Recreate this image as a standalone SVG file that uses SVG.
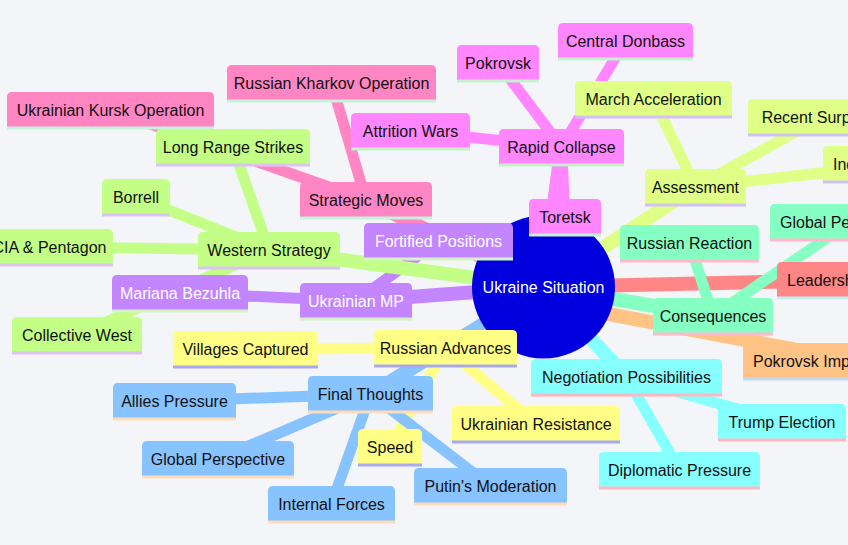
<svg xmlns="http://www.w3.org/2000/svg" width="848" height="545" viewBox="0 0 848 545">
<style>
text{font-family:"Liberation Sans",Arial,sans-serif;font-size:16px;text-anchor:middle;fill:#111}
.e1{stroke-width:14;fill:none}
.e2{stroke-width:11;fill:none}
.ln{stroke-width:3}
.c0{fill:#ffff86}.k0{stroke:#ffff86}.l0{stroke:#a9a9ee}
.c1{fill:#dfff86}.k1{stroke:#dfff86}.l1{stroke:#d2c2f2}
.c2{fill:#c386ff}.k2{stroke:#c386ff}.l2{stroke:#d4f2c4}
.c3{fill:#ff86ff}.k3{stroke:#ff86ff}.l3{stroke:#c4f2cc}
.c4{fill:#ff86c3}.k4{stroke:#ff86c3}.l4{stroke:#c4f2dc}
.c5{fill:#ff8686}.k5{stroke:#ff8686}.l5{stroke:#c4eef2}
.c6{fill:#ffc386}.k6{stroke:#ffc386}.l6{stroke:#c4dcf2}
.c7{fill:#c3ff86}.k7{stroke:#c3ff86}.l7{stroke:#dcc4f2}
.c8{fill:#86ffc3}.k8{stroke:#86ffc3}.l8{stroke:#ffb8cc}
.c9{fill:#86ffff}.k9{stroke:#86ffff}.l9{stroke:#ffb8c0}
.c10{fill:#86c3ff}.k10{stroke:#86c3ff}.l10{stroke:#ffdcb8}
.w text,text.w{fill:#fff}
</style>
<rect x="0" y="0" width="848" height="545" fill="#f4f5f8"/>
<g id="connectors">
<line class="e1 k4" x1="543" y1="287" x2="366" y2="200"/>
<line class="e2 k4" x1="366" y1="200" x2="110.5" y2="110"/>
<line class="e2 k4" x1="366" y1="200" x2="331.5" y2="83"/>
<line class="e1 k3" x1="543" y1="287" x2="561.5" y2="147"/>
<line class="e2 k3" x1="561.5" y1="147" x2="498" y2="63"/>
<line class="e2 k3" x1="561.5" y1="147" x2="625.5" y2="41"/>
<line class="e2 k3" x1="561.5" y1="147" x2="410.5" y2="131"/>
<line class="e2 k3" x1="561.5" y1="147" x2="565" y2="217"/>
<line class="e1 k1" x1="543" y1="287" x2="695.5" y2="187"/>
<line class="e2 k1" x1="695.5" y1="187" x2="653.5" y2="99"/>
<line class="e2 k1" x1="695.5" y1="187" x2="823" y2="117"/>
<line class="e2 k1" x1="695.5" y1="187" x2="903" y2="164"/>
<line class="e1 k5" x1="543" y1="287" x2="852" y2="280"/>
<line class="e1 k8" x1="543" y1="287" x2="713" y2="316"/>
<line class="e2 k8" x1="713" y1="316" x2="689.5" y2="243"/>
<line class="e2 k8" x1="713" y1="316" x2="850" y2="222"/>
<line class="e1 k6" x1="545" y1="302" x2="855" y2="361"/>
<line class="e1 k9" x1="543" y1="287" x2="626.5" y2="377"/>
<line class="e2 k9" x1="626.5" y1="377" x2="782" y2="422"/>
<line class="e2 k9" x1="626.5" y1="377" x2="679.5" y2="470"/>
<line class="e1 k0" x1="543" y1="287" x2="445.5" y2="348"/>
<line class="e2 k0" x1="445.5" y1="348" x2="245.5" y2="349"/>
<line class="e2 k0" x1="445.5" y1="348" x2="536" y2="424"/>
<line class="e2 k0" x1="445.5" y1="348" x2="390" y2="447"/>
<line class="e1 k10" x1="543" y1="287" x2="370.5" y2="394"/>
<line class="e2 k10" x1="370.5" y1="394" x2="174.5" y2="401"/>
<line class="e2 k10" x1="370.5" y1="394" x2="218" y2="459"/>
<line class="e2 k10" x1="370.5" y1="394" x2="331.5" y2="504"/>
<line class="e2 k10" x1="370.5" y1="394" x2="490.5" y2="486"/>
<line class="e1 k2" x1="543" y1="287" x2="356" y2="301"/>
<line class="e2 k2" x1="356" y1="301" x2="180" y2="293"/>
<line class="e2 k2" x1="356" y1="301" x2="438.5" y2="241"/>
<line class="e1 k7" x1="543" y1="287" x2="269" y2="250"/>
<line class="e2 k7" x1="269" y1="250" x2="233" y2="147"/>
<line class="e2 k7" x1="269" y1="250" x2="136" y2="197"/>
<line class="e2 k7" x1="269" y1="250" x2="49.5" y2="247"/>
<line class="e2 k7" x1="269" y1="250" x2="77" y2="335"/>
</g>
<g id="root">
<circle cx="543.5" cy="287" r="71.5" fill="#0000de"/>
<text class="w" x="543.5" y="293">Ukraine Situation</text>
</g>
<g id="strategic-moves" transform="translate(300,182)"><path class="c4" d="M0 36V5Q0 0 5 0H127Q132 0 132 5V36Z"/><line class="ln l4" x1="0" y1="36" x2="132" y2="36"/><text x="66" y="23.5">Strategic Moves</text></g>
<g id="ukrainian-kursk-operation" transform="translate(7,92)"><path class="c4" d="M0 36V5Q0 0 5 0H202Q207 0 207 5V36Z"/><line class="ln l4" x1="0" y1="36" x2="207" y2="36"/><text x="103.5" y="23.5">Ukrainian Kursk Operation</text></g>
<g id="russian-kharkov-operation" transform="translate(227,65)"><path class="c4" d="M0 36V5Q0 0 5 0H204Q209 0 209 5V36Z"/><line class="ln l4" x1="0" y1="36" x2="209" y2="36"/><text x="104.5" y="23.5">Russian Kharkov Operation</text></g>
<g id="rapid-collapse" transform="translate(499,129)"><path class="c3" d="M0 36V5Q0 0 5 0H120Q125 0 125 5V36Z"/><line class="ln l3" x1="0" y1="36" x2="125" y2="36"/><text x="62.5" y="23.5">Rapid Collapse</text></g>
<g id="pokrovsk" transform="translate(457,45)"><path class="c3" d="M0 36V5Q0 0 5 0H77Q82 0 82 5V36Z"/><line class="ln l3" x1="0" y1="36" x2="82" y2="36"/><text x="41" y="23.5">Pokrovsk</text></g>
<g id="central-donbass" transform="translate(558,23)"><path class="c3" d="M0 36V5Q0 0 5 0H130Q135 0 135 5V36Z"/><line class="ln l3" x1="0" y1="36" x2="135" y2="36"/><text x="67.5" y="23.5">Central Donbass</text></g>
<g id="attrition-wars" transform="translate(351,113)"><path class="c3" d="M0 36V5Q0 0 5 0H114Q119 0 119 5V36Z"/><line class="ln l3" x1="0" y1="36" x2="119" y2="36"/><text x="59.5" y="23.5">Attrition Wars</text></g>
<g id="toretsk" transform="translate(529,199)"><path class="c3" d="M0 36V5Q0 0 5 0H67Q72 0 72 5V36Z"/><line class="ln l3" x1="0" y1="36" x2="72" y2="36"/><text x="36" y="23.5">Toretsk</text></g>
<g id="assessment" transform="translate(645,169)"><path class="c1" d="M0 36V5Q0 0 5 0H96Q101 0 101 5V36Z"/><line class="ln l1" x1="0" y1="36" x2="101" y2="36"/><text x="50.5" y="23.5">Assessment</text></g>
<g id="march-acceleration" transform="translate(575,81)"><path class="c1" d="M0 36V5Q0 0 5 0H152Q157 0 157 5V36Z"/><line class="ln l1" x1="0" y1="36" x2="157" y2="36"/><text x="78.5" y="23.5">March Acceleration</text></g>
<g id="recent-surprises" transform="translate(748,99)"><path class="c1" d="M0 36V5Q0 0 5 0H145Q150 0 150 5V36Z"/><line class="ln l1" x1="0" y1="36" x2="150" y2="36"/><text x="75" y="23.5">Recent Surprises</text></g>
<g id="indicators" transform="translate(823,146)"><path class="c1" d="M0 36V5Q0 0 5 0H155Q160 0 160 5V36Z"/><line class="ln l1" x1="0" y1="36" x2="160" y2="36"/><text x="10" y="23.5" style="text-anchor:start">Indicators</text></g>
<g id="leadership" transform="translate(777,262)"><path class="c5" d="M0 36V5Q0 0 5 0H145Q150 0 150 5V36Z"/><line class="ln l5" x1="0" y1="36" x2="150" y2="36"/><text x="10" y="23.5" style="text-anchor:start">Leadership</text></g>
<g id="consequences" transform="translate(653,298)"><path class="c8" d="M0 36V5Q0 0 5 0H115Q120 0 120 5V36Z"/><line class="ln l8" x1="0" y1="36" x2="120" y2="36"/><text x="60" y="23.5">Consequences</text></g>
<g id="russian-reaction" transform="translate(620,225)"><path class="c8" d="M0 36V5Q0 0 5 0H134Q139 0 139 5V36Z"/><line class="ln l8" x1="0" y1="36" x2="139" y2="36"/><text x="69.5" y="23.5">Russian Reaction</text></g>
<g id="global-perception" transform="translate(770,204)"><path class="c8" d="M0 36V5Q0 0 5 0H155Q160 0 160 5V36Z"/><line class="ln l8" x1="0" y1="36" x2="160" y2="36"/><text x="10" y="23.5" style="text-anchor:start">Global Perception</text></g>
<g id="pokrovsk-impact" transform="translate(743,343)"><path class="c6" d="M0 36V5Q0 0 5 0H155Q160 0 160 5V36Z"/><line class="ln l6" x1="0" y1="36" x2="160" y2="36"/><text x="10" y="23.5" style="text-anchor:start">Pokrovsk Impact</text></g>
<g id="negotiation-possibilities" transform="translate(531,359)"><path class="c9" d="M0 36V5Q0 0 5 0H186Q191 0 191 5V36Z"/><line class="ln l9" x1="0" y1="36" x2="191" y2="36"/><text x="95.5" y="23.5">Negotiation Possibilities</text></g>
<g id="trump-election" transform="translate(718,404)"><path class="c9" d="M0 36V5Q0 0 5 0H123Q128 0 128 5V36Z"/><line class="ln l9" x1="0" y1="36" x2="128" y2="36"/><text x="64" y="23.5">Trump Election</text></g>
<g id="diplomatic-pressure" transform="translate(599,452)"><path class="c9" d="M0 36V5Q0 0 5 0H156Q161 0 161 5V36Z"/><line class="ln l9" x1="0" y1="36" x2="161" y2="36"/><text x="80.5" y="23.5">Diplomatic Pressure</text></g>
<g id="russian-advances" transform="translate(374,330)"><path class="c0" d="M0 36V5Q0 0 5 0H138Q143 0 143 5V36Z"/><line class="ln l0" x1="0" y1="36" x2="143" y2="36"/><text x="71.5" y="23.5">Russian Advances</text></g>
<g id="villages-captured" transform="translate(173,331)"><path class="c0" d="M0 36V5Q0 0 5 0H140Q145 0 145 5V36Z"/><line class="ln l0" x1="0" y1="36" x2="145" y2="36"/><text x="72.5" y="23.5">Villages Captured</text></g>
<g id="ukrainian-resistance" transform="translate(452,406)"><path class="c0" d="M0 36V5Q0 0 5 0H163Q168 0 168 5V36Z"/><line class="ln l0" x1="0" y1="36" x2="168" y2="36"/><text x="84" y="23.5">Ukrainian Resistance</text></g>
<g id="speed" transform="translate(358,429)"><path class="c0" d="M0 36V5Q0 0 5 0H59Q64 0 64 5V36Z"/><line class="ln l0" x1="0" y1="36" x2="64" y2="36"/><text x="32" y="23.5">Speed</text></g>
<g id="final-thoughts" transform="translate(308,376)"><path class="c10" d="M0 36V5Q0 0 5 0H120Q125 0 125 5V36Z"/><line class="ln l10" x1="0" y1="36" x2="125" y2="36"/><text x="62.5" y="23.5">Final Thoughts</text></g>
<g id="allies-pressure" transform="translate(113,383)"><path class="c10" d="M0 36V5Q0 0 5 0H118Q123 0 123 5V36Z"/><line class="ln l10" x1="0" y1="36" x2="123" y2="36"/><text x="61.5" y="23.5">Allies Pressure</text></g>
<g id="global-perspective" transform="translate(142,441)"><path class="c10" d="M0 36V5Q0 0 5 0H147Q152 0 152 5V36Z"/><line class="ln l10" x1="0" y1="36" x2="152" y2="36"/><text x="76" y="23.5">Global Perspective</text></g>
<g id="internal-forces" transform="translate(268,486)"><path class="c10" d="M0 36V5Q0 0 5 0H122Q127 0 127 5V36Z"/><line class="ln l10" x1="0" y1="36" x2="127" y2="36"/><text x="63.5" y="23.5">Internal Forces</text></g>
<g id="putins-moderation" transform="translate(414,468)"><path class="c10" d="M0 36V5Q0 0 5 0H148Q153 0 153 5V36Z"/><line class="ln l10" x1="0" y1="36" x2="153" y2="36"/><text x="76.5" y="23.5">Putin's Moderation</text></g>
<g id="ukrainian-mp" class="w" transform="translate(300,283)"><path class="c2" d="M0 36V5Q0 0 5 0H107Q112 0 112 5V36Z"/><line class="ln l2" x1="0" y1="36" x2="112" y2="36"/><text x="56" y="23.5">Ukrainian MP</text></g>
<g id="mariana-bezuhla" class="w" transform="translate(112,275)"><path class="c2" d="M0 36V5Q0 0 5 0H131Q136 0 136 5V36Z"/><line class="ln l2" x1="0" y1="36" x2="136" y2="36"/><text x="68" y="23.5">Mariana Bezuhla</text></g>
<g id="fortified-positions" class="w" transform="translate(364,223)"><path class="c2" d="M0 36V5Q0 0 5 0H144Q149 0 149 5V36Z"/><line class="ln l2" x1="0" y1="36" x2="149" y2="36"/><text x="74.5" y="23.5">Fortified Positions</text></g>
<g id="western-strategy" transform="translate(198,232)"><path class="c7" d="M0 36V5Q0 0 5 0H137Q142 0 142 5V36Z"/><line class="ln l7" x1="0" y1="36" x2="142" y2="36"/><text x="71" y="23.5">Western Strategy</text></g>
<g id="long-range-strikes" transform="translate(156,129)"><path class="c7" d="M0 36V5Q0 0 5 0H149Q154 0 154 5V36Z"/><line class="ln l7" x1="0" y1="36" x2="154" y2="36"/><text x="77" y="23.5">Long Range Strikes</text></g>
<g id="borrell" transform="translate(102,179)"><path class="c7" d="M0 36V5Q0 0 5 0H63Q68 0 68 5V36Z"/><line class="ln l7" x1="0" y1="36" x2="68" y2="36"/><text x="34" y="23.5">Borrell</text></g>
<g id="cia-pentagon" transform="translate(-14,229)"><path class="c7" d="M0 36V5Q0 0 5 0H122Q127 0 127 5V36Z"/><line class="ln l7" x1="0" y1="36" x2="127" y2="36"/><text x="63.5" y="23.5">CIA &amp; Pentagon</text></g>
<g id="collective-west" transform="translate(12,317)"><path class="c7" d="M0 36V5Q0 0 5 0H125Q130 0 130 5V36Z"/><line class="ln l7" x1="0" y1="36" x2="130" y2="36"/><text x="65" y="23.5">Collective West</text></g>
</svg>
